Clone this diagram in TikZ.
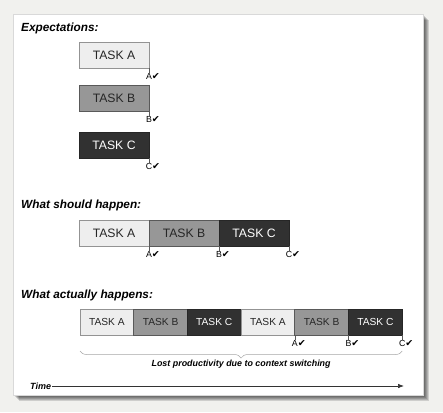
\documentclass[tikz,border=0pt]{standalone}
\usepackage{fontspec}
\setmainfont{Liberation Sans}
\newfontfamily\chkfont{DejaVu Sans}
\usetikzlibrary{arrows.meta,positioning,decorations.pathreplacing}
\definecolor{pagebg}{HTML}{F1F1EE}
\definecolor{fillA}{HTML}{EEEEEE}
\definecolor{fillB}{HTML}{979797}
\definecolor{fillC}{HTML}{313131}
\newcommand{\checkmk}{{\chkfont\fontsize{9.5}{10}\selectfont ✔}}

\begin{document}
\begin{tikzpicture}[
      x=1pt,y=-1pt,
      task/.style={draw,line width=0.8pt,minimum width=70pt,minimum height=26pt,
        inner sep=0pt,outer sep=0pt,font=\fontsize{12.2}{14}\selectfont},
      taskA/.style={task,fill=fillA,draw=gray!85,text=black!85},
      taskB/.style={task,fill=fillB,draw=gray!70!black,text=black!85},
      taskC/.style={task,fill=fillC,draw=black!85,text=white},
      narrow/.style={minimum width=53.7pt,font=\fontsize{10.2}{12}\selectfont},
      heading/.style={anchor=west,inner sep=0pt,font=\fontsize{11.8}{14}\selectfont\bfseries\itshape},
      tickline/.style={draw=gray!70!black,line width=0.6pt},
      done/.style={anchor=north,inner sep=0.5pt,xshift=4pt,font=\fontsize{8.8}{10}\selectfont}
    ]
      % page and card with soft shadow
      \fill[pagebg] (0,0) rectangle (443,412);
      \useasboundingbox (0,0) rectangle (443,412);
      \foreach \s in {1,...,6}
        \fill[black,opacity=0.14] (13+\s,14+\s) rectangle (423+\s-0.5,395+\s-0.5);
      \filldraw[fill=white,draw=gray!30,line width=0.5pt] (13,14) rectangle (423,395);

      % expectations
      \node[heading] (hexp) at (21,28) {Expectations:};
      \node[taskA,anchor=north west] (eA) at (79,42) {TASK A};
      \node[taskB,below=17pt of eA] (eB) {TASK B};
      \node[taskC,below=21pt of eB] (eC) {TASK C};
      \foreach \t/\l in {eA/A,eB/B,eC/C} {
        \draw[tickline] (\t.south east) -- ++(0,5) coordinate (\t-end);
        \node[done] (\t-ok) at (\t-end) {\l\checkmk};
      }

      % what should happen
      \node[heading] (hshould) at (21,205) {What should happen:};
      \node[taskA,anchor=north west] (sA) at (79,220) {TASK A};
      \node[taskB,right=0pt of sA] (sB) {TASK B};
      \node[taskC,right=0pt of sB] (sC) {TASK C};
      \foreach \t/\l in {sA/A,sB/B,sC/C} {
        \draw[tickline] (\t.south east) -- ++(0,5) coordinate (\t-end);
        \node[done] (\t-ok) at (\t-end) {\l\checkmk};
      }

      % what actually happens
      \node[heading] (hactual) at (21,295) {What actually happens:};
      \node[taskA,narrow,anchor=north west] (w1) at (80,309) {TASK A};
      \node[taskB,narrow,right=0pt of w1] (w2) {TASK B};
      \node[taskC,narrow,right=0pt of w2] (w3) {TASK C};
      \node[taskA,narrow,right=0pt of w3] (w4) {TASK A};
      \node[taskB,narrow,right=0pt of w4] (w5) {TASK B};
      \node[taskC,narrow,right=0pt of w5] (w6) {TASK C};
      \foreach \t/\l in {w4/A,w5/B,w6/C} {
        \draw[tickline] (\t.south east) -- ++(0,5) coordinate (\t-end);
        \node[done] (\t-ok) at (\t-end) {\l\checkmk};
      }
      \draw[decorate,decoration={brace,mirror,amplitude=7pt},draw=gray!70,line width=0.5pt]
        ([yshift=-16pt]w1.south west) -- ([yshift=-16pt]w6.south east)
        node[midway,below=9pt,inner sep=0pt,font=\fontsize{8.9}{10}\selectfont\bfseries\itshape] (lost)
        {Lost productivity due to context switching};

      % time axis
      \node[anchor=west,inner sep=1pt,font=\fontsize{9}{10}\selectfont\bfseries\itshape] (time) at (29,386) {Time};
      \coordinate (tend) at (404,386);
      \draw[-{Latex[length=6pt,width=4.5pt]},line width=0.7pt,black!80] (time) -- (tend);
    \end{tikzpicture}
\end{document}
